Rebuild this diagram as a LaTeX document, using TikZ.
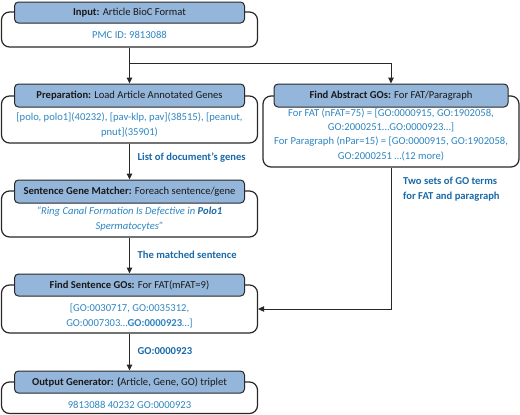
\documentclass[tikz,border=0pt]{standalone}
\usepackage{fontspec}
\setmainfont{Carlito}
\usetikzlibrary{arrows.meta}
\definecolor{hdrfill}{RGB}{149,182,219}
\definecolor{txtblue}{RGB}{46,134,193}
\definecolor{lblblue}{RGB}{25,105,168}
\definecolor{linegray}{RGB}{40,40,40}
\tikzset{
  bodybox/.style={rectangle, rounded corners=8pt, draw=linegray, line width=1.2pt, fill=white, inner sep=0pt},
  hdrbox/.style={rectangle, rounded corners=4pt, draw=linegray, line width=1pt, fill=hdrfill, inner sep=0pt, font=\fontsize{10.6}{12}\selectfont, text=black!90},
  bodytext/.style={align=center, text=txtblue, font=\fontsize{10.6}{15}\selectfont, inner sep=0pt},
  lbl/.style={anchor=west, align=left, text=lblblue, font=\fontsize{10.6}{15}\selectfont\bfseries, inner sep=0pt},
  arr/.style={draw=linegray, line width=1pt, -{Triangle[length=6pt,width=5.5pt]}}
}
\begin{document}
\begin{tikzpicture}[x=1pt,y=-1pt]
\useasboundingbox (0,0) rectangle (520,415);
% Input
\node[bodybox, minimum width=256pt, minimum height=35pt] (inB) at (129.5,29.5) {};
\node[hdrbox, minimum width=230pt, minimum height=21pt] (inH) at (129.5,12.5) {\textbf{Input:} Article BioC Format};
\node[bodytext] (inT) at (129.5,35) {PMC ID: 9813088};
% Preparation
\node[bodybox, minimum width=256pt, minimum height=47pt] (prepB) at (129.5,119.5) {};
\node[hdrbox, minimum width=230pt, minimum height=23pt] (prepH) at (129.5,95.5) {\textbf{Preparation:} Load Article Annotated Genes};
\node[bodytext] (prepT) at (129.5,124.5) {[polo, polo1](40232), [pav-klp, pav](38515), [peanut,\\ pnut](35901)};
% Find Abstract GOs
\node[bodybox, minimum width=256pt, minimum height=71pt] (absB) at (391,131.5) {};
\node[hdrbox, minimum width=234pt, minimum height=23pt] (absH) at (391,95.5) {\textbf{Find Abstract GOs:} For FAT/Paragraph};
\node[bodytext, font=\fontsize{10.6}{14.4}\selectfont] (absT) at (391,134.5) {For FAT (nFAT=75) = [GO:0000915, GO:1902058,\\ GO:2000251…GO:0000923…]\\ For Paragraph (nPar=15) = [GO:0000915, GO:1902058,\\ GO:2000251 …(12 more)};
% Sentence Gene Matcher
\node[bodybox, minimum width=256pt, minimum height=46pt] (sentB) at (129.5,214) {};
\node[hdrbox, minimum width=230pt, minimum height=23pt] (sentH) at (129.5,191.5) {\textbf{Sentence Gene Matcher:} Foreach sentence/gene};
\node[bodytext, font=\fontsize{10.6}{15}\selectfont\itshape] (sentT) at (129.5,219.5) {“Ring Canal Formation Is Defective in \textcolor{lblblue}{\textbf{Polo1}}\\ Spermatocytes”};
% Find Sentence GOs
\node[bodybox, minimum width=256pt, minimum height=48pt] (fsB) at (129.5,309) {};
\node[hdrbox, minimum width=230pt, minimum height=22pt] (fsH) at (129.5,285) {\textbf{Find Sentence GOs:} For FAT(mFAT=9)};
\node[bodytext] (fsT) at (129.5,315.5) {[GO:0030717, GO:0035312,\\ GO:0007303…\textbf{GO:0000923}…]};
% Output Generator
\node[bodybox, minimum width=256pt, minimum height=31.5pt] (outB) at (129.5,397.75) {};
\node[hdrbox, minimum width=230pt, minimum height=22pt] (outH) at (129.5,382) {\textbf{Output Generator: (}Article, Gene, GO) triplet};
\node[bodytext] (outT) at (129.5,405) {9813088 40232 GO:0000923};
% connectors
\coordinate (br) at (129.5,63.5);
\draw[arr] (inB.south) -- (prepH.north);
\draw[arr] (br) -| (absH.north);
\draw[arr] (prepB.south) -- (sentH.north);
\draw[arr] (sentB.south) -- (fsH.north);
\draw[arr] (fsB.south) -- (outH.north);
\draw[arr] (absB.south) |- (fsB.east);
% labels
\node[lbl] (l1) at (137.5,158) {List of document’s genes};
\node[lbl] (l2) at (137.5,255) {The matched sentence};
\node[lbl] (l3) at (137.5,351) {GO:0000923};
\node[lbl] (l4) at (403,189.5) {Two sets of GO terms\\for FAT and paragraph};
\end{tikzpicture}
\end{document}
